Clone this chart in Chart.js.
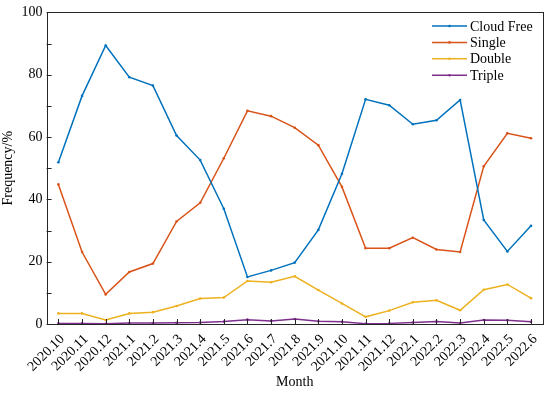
<!DOCTYPE html>
<html>
<head>
<meta charset="utf-8">
<script src="https://cdn.jsdelivr.net/npm/chart.js@4/dist/chart.umd.min.js"></script>
<style>
  html, body { margin: 0; padding: 0; background: #fff; }
  #wrap { width: 550px; height: 393px; }
</style>
</head>
<body>
<div id="wrap"><canvas id="myChart" width="550" height="393"></canvas></div>
<script>
// months on the x axis
const months = ['2020.10','2020.11','2020.12','2021.1','2021.2','2021.3','2021.4','2021.5','2021.6','2021.7','2021.8',
  '2021.9','2021.10','2021.11','2021.12','2022.1','2022.2','2022.3','2022.4','2022.5','2022.6']
// frequency (%) per cloud layer class
const cloudFree = [51.9, 73.2, 89.4, 79.2, 76.5, 60.5, 52.6, 37.0, 15.1, 17.2, 19.7, 30.2, 48.2, 72.1, 70.2, 64.1, 65.4, 71.9, 33.4, 23.3, 31.5]
const single    = [44.8, 23.1, 9.5, 16.7, 19.4, 32.9, 38.9, 53.2, 68.4, 66.7, 63.0, 57.4, 44.0, 24.3, 24.3, 27.7, 23.9, 23.1, 50.6, 61.2, 59.6]
const double_   = [3.4, 3.4, 1.3, 3.4, 3.8, 5.8, 8.2, 8.5, 13.8, 13.4, 15.3, 10.9, 6.6, 2.3, 4.3, 7.0, 7.6, 4.4, 11.0, 12.7, 8.3]
const triple    = [0.2, 0.2, 0.1, 0.3, 0.3, 0.4, 0.5, 0.8, 1.4, 1.0, 1.6, 0.9, 0.7, 0.1, 0.2, 0.5, 0.8, 0.3, 1.3, 1.2, 0.7]
const yTicks = [0, 20, 40, 60, 80, 100]

const FONT = "'Liberation Serif', 'Times New Roman', serif"
const AXIS = '#262626'

function series(label, data, color) {
  return {
    label: label,
    data: data,
    borderColor: color,
    backgroundColor: color,
    borderWidth: 1.5,
    pointRadius: 1.3,
    pointBorderWidth: 0,
    pointHoverRadius: 1.3,
    tension: 0,
    fill: false
  }
}

// box, inward ticks and legend drawn on top of the chart area
const frame = {
  id: 'frame',
  afterDatasetsDraw(chart) {
    const c = chart.ctx, a = chart.chartArea
    const xs = chart.scales.x, ys = chart.scales.y
    c.save()
    c.strokeStyle = AXIS
    c.lineWidth = 1
    c.strokeRect(Math.round(a.left) + 0.5, Math.round(a.top) + 0.5, Math.round(a.right - a.left), Math.round(a.bottom - a.top))
    c.beginPath()
    for (let v = 0; v <= 100; v += 10) {
      const y = Math.round(ys.getPixelForValue(v)) + 0.5
      c.moveTo(a.left, y); c.lineTo(a.left + 5, y)
    }
    for (let i = 0; i < months.length; i++) {
      const x = Math.round(xs.getPixelForTick(i)) + 0.5
      c.moveTo(x, a.bottom); c.lineTo(x, a.bottom - 5)
    }
    c.stroke()

    // legend
    const lx = 432, tx = 470
    c.font = '14px ' + FONT
    c.textBaseline = 'middle'
    c.textAlign = 'left'
    chart.data.datasets.forEach((ds, i) => {
      const y = 26 + i * 16.4
      c.strokeStyle = ds.borderColor
      c.lineWidth = 1.5
      c.beginPath(); c.moveTo(lx, y); c.lineTo(lx + 35, y); c.stroke()
      c.fillStyle = ds.borderColor
      c.beginPath(); c.arc(lx + 17.5, y, 1.3, 0, Math.PI * 2); c.fill()
      c.fillStyle = '#000'
      c.fillText(ds.label, tx, y + 1)
    })
    c.restore()
  }
}

var ctx = document.getElementById('myChart').getContext('2d')
var myChart = new Chart(ctx, {
  type: 'line',
  data: {
    labels: months,
    datasets: [
      series('Cloud Free', cloudFree, '#0072BD'),
      series('Single', single, '#D95319'),
      series('Double', double_, '#EDB120'),
      series('Triple', triple, '#7E2F8E')
    ]
  },
  options: {
    responsive: false,
    animation: false,
    events: [],
    layout: { padding: { left: 0, right: 5, top: 11, bottom: 0 } },
    plugins: { legend: { display: false }, tooltip: { enabled: false } },
    scales: {
      x: {
        offset: true,
        grid: { display: false, drawTicks: false },
        border: { display: false },
        ticks: {
          color: '#000', minRotation: 45, maxRotation: 45, autoSkip: false, padding: 7, labelOffset: 4,
          font: { family: FONT, size: 14 }
        },
        title: { display: true, text: 'Month', color: '#000', font: { family: FONT, size: 14 }, padding: { top: 0, bottom: 2 } },
        afterFit(s) { s.height = 69 }
      },
      y: {
        min: 0, max: 100,
        grid: { display: false, drawTicks: false },
        border: { display: false },
        afterBuildTicks(s) { s.ticks = yTicks.map(v => ({ value: v })) },
        ticks: { color: '#000', padding: 4, font: { family: FONT, size: 14 } },
        title: { display: true, text: 'Frequency/%', color: '#000', font: { family: FONT, size: 14 }, padding: { top: 0, bottom: 0 } },
        afterFit(s) { s.width = 46.6 }
      }
    }
  },
  plugins: [frame]
})
</script>
</body>
</html>
